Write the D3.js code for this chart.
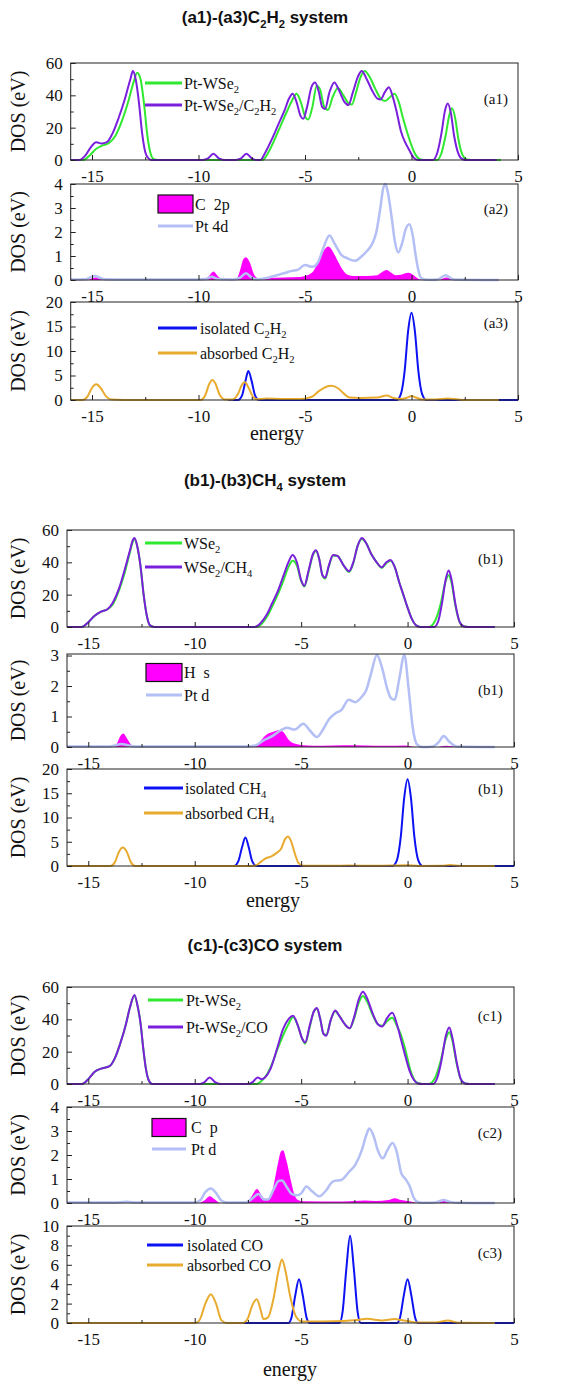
<!DOCTYPE html>
<html>
<head>
<meta charset="utf-8">
<script src="https://cdn.jsdelivr.net/npm/d3@7"></script>
<style>
body { margin: 0; background: #fff; }
svg { display: block; }
text { font-family: "Liberation Serif", "Times New Roman", serif; fill: #111; }
text.title { font-family: "Liberation Sans", Arial, sans-serif; font-weight: bold; }
</style>
</head>
<body>
<svg id="chart" width="561" height="1385"></svg>
<script>
//energy axis and its ticks
var energyRange = [-16, 5];
var xMajor = [-15, -10, -5, 0, 5];
var xMinor = [-12.5, -7.5, -2.5, 2.5];

//y tick values for the different panel heights
var ticks60 = [0, 20, 40, 60], minor60 = [10, 30, 50];
var ticks4 = [0, 1, 2, 3, 4], minor4 = [0.5, 1.5, 2.5, 3.5];
var ticks3 = [0, 1, 2, 3], minor3 = [0.5, 1.5, 2.5];
var ticks20 = [0, 5, 10, 15, 20], minor20 = [2.5, 7.5, 12.5, 17.5];
var ticks10 = [0, 2, 4, 6, 8, 10], minor10 = [1, 3, 5, 7, 9];

//(a1) total DOS, [energy, DOS]
var a1Bare = [[-16,0],[-15.4,0],[-15.1,3],[-14.8,7],[-14.5,9],[-14.2,10.5],[-13.9,15],[-13.6,24],[-13.3,36],[-13.05,48],[-12.88,54],[-12.72,50],[-12.55,34],[-12.4,15],[-12.25,4],[-12.1,0.5],[-11.9,0],
  [-7.0,0],[-6.75,4],[-6.45,12],[-6.15,21],[-5.85,30],[-5.6,37],[-5.4,41],[-5.2,36],[-5.0,27],[-4.85,25],[-4.65,33],[-4.45,46],[-4.3,44],[-4.1,33],[-3.92,31],[-3.7,39],[-3.45,44.5],[-3.2,40],[-2.95,35],[-2.8,34.3],[-2.6,42],[-2.4,51],[-2.2,55],[-1.95,51],[-1.7,44],[-1.45,38],[-1.24,36.5],[-1.0,39],[-0.8,41],[-0.6,36],[-0.4,26],[-0.2,17],[0,9],[0.2,3],[0.4,0.5],[0.6,0],
  [1.2,0],[1.4,4],[1.6,15],[1.78,28],[1.9,32],[2.05,26],[2.2,13],[2.4,3],[2.6,0.3],[2.8,0],[4.2,0]];
var a1Ads = [[-16,0],[-15.6,0],[-15.3,3],[-15.05,8],[-14.8,11],[-14.55,10.2],[-14.3,11],[-14.05,16],[-13.75,26],[-13.45,38],[-13.2,50],[-13.08,55],[-12.95,50],[-12.8,36],[-12.65,17],[-12.5,5],[-12.35,1],[-12.2,0],
  [-9.8,0],[-9.55,1],[-9.3,3.9],[-9.05,1],[-8.8,0],[-8.25,0],[-8.0,1],[-7.75,3.9],[-7.5,1],[-7.25,0],
  [-7.1,0],[-6.85,5],[-6.55,13],[-6.25,22],[-5.95,31],[-5.75,38],[-5.58,41],[-5.4,36],[-5.2,27],[-5.08,25.5],[-4.9,33],[-4.7,45],[-4.53,48],[-4.35,42],[-4.2,33],[-4.06,31.5],[-3.85,42],[-3.62,48],[-3.4,43],[-3.15,36],[-2.96,34],[-2.75,42],[-2.5,52],[-2.34,55],[-2.1,50],[-1.85,43],[-1.6,38],[-1.45,37.5],[-1.25,42],[-1.06,45],[-0.9,40],[-0.7,30],[-0.5,18],[-0.3,11],[-0.1,6],[0.1,1.5],[0.3,0],
  [1.0,0],[1.2,4],[1.4,16],[1.58,31],[1.7,35],[1.85,29],[2.0,15],[2.2,4],[2.4,0.5],[2.6,0],[4.0,0]];

//(a2) projected DOS
var a2C = [[-16,0],[-15.2,0],[-15.0,0.07],[-14.86,0.1],[-14.7,0.07],[-14.4,0],[-9.8,0],[-9.55,0.12],[-9.3,0.35],[-9.05,0.12],[-8.8,0],[-8.25,0],[-8.05,0.4],[-7.9,0.85],[-7.77,0.95],[-7.6,0.75],[-7.4,0.25],[-7.2,0.07],[-6.8,0.08],[-6,0.1],[-5.3,0.12],[-4.9,0.2],[-4.6,0.38],[-4.35,0.8],[-4.1,1.25],[-3.9,1.4],[-3.7,1.2],[-3.5,0.85],[-3.25,0.45],[-3.0,0.22],[-2.7,0.17],[-2.1,0.17],[-1.6,0.2],[-1.35,0.35],[-1.17,0.42],[-0.95,0.3],[-0.75,0.2],[-0.5,0.22],[-0.15,0.3],[0.1,0.2],[0.3,0.06],[0.5,0],[1.3,0],[1.5,0.07],[1.65,0.1],[1.85,0.06],[2.2,0],[4.1,0]];
var a2Pt = [[-16,0.02],[-15.3,0.03],[-15.05,0.12],[-14.86,0.17],[-14.65,0.1],[-14.4,0.03],[-13.5,0.02],[-10,0.02],[-9.65,0.04],[-9.38,0.14],[-9.1,0.04],[-8.4,0.02],[-8.05,0.1],[-7.77,0.28],[-7.5,0.1],[-7.27,0.03],[-6.8,0.08],[-6.4,0.18],[-6.0,0.28],[-5.6,0.38],[-5.35,0.42],[-5.0,0.62],[-4.65,0.55],[-4.4,0.72],[-4.15,1.3],[-3.85,1.85],[-3.6,1.5],[-3.3,1.05],[-3.0,0.9],[-2.65,0.8],[-2.35,0.98],[-2.1,1.2],[-1.85,1.5],[-1.65,2.0],[-1.48,2.9],[-1.32,3.85],[-1.22,4.0],[-1.1,3.6],[-0.93,2.6],[-0.78,1.6],[-0.62,1.15],[-0.45,1.5],[-0.28,2.1],[-0.1,2.32],[0.05,1.9],[0.2,1.0],[0.35,0.3],[0.5,0.05],[0.75,0.01],[1.2,0.02],[1.4,0.1],[1.6,0.2],[1.8,0.1],[2.0,0.02],[4.1,0]];

//(a3) molecule DOS
var a3Iso = [[-8.6,0],[-8.15,0],[-7.95,1],[-7.8,3.8],[-7.66,5.9],[-7.5,3.8],[-7.35,1],[-7.15,0],[-0.7,0],[-0.5,1.2],[-0.32,6],[-0.16,14],[0,17.8],[0.16,14],[0.32,6],[0.5,1.2],[0.7,0],[5,0]];
var a3Abs = [[-16,0],[-15.45,0],[-15.2,0.8],[-15.0,2.5],[-14.8,3.2],[-14.6,2.5],[-14.35,0.8],[-14.1,0.1],[-13.5,0],[-9.9,0],[-9.7,0.8],[-9.5,3.2],[-9.35,4.1],[-9.2,3.3],[-9.0,1],[-8.75,0.1],[-8.4,0.1],[-8.15,1.2],[-7.95,3.2],[-7.82,3.6],[-7.65,2.5],[-7.45,0.7],[-7.25,0.15],[-6.8,0.3],[-6.0,0.2],[-5.2,0.2],[-4.7,0.6],[-4.35,1.8],[-4.0,2.7],[-3.75,2.9],[-3.45,2.4],[-3.15,1.2],[-2.9,0.5],[-2.4,0.4],[-1.6,0.5],[-1.16,0.9],[-0.85,0.4],[-0.5,0.2],[-0.2,0.5],[0,0.8],[0.2,0.5],[0.5,0.1],[1.1,0.1],[1.7,0.3],[2.2,0.1],[2.6,0],[4.1,0]];

//(b1) total DOS
var b1Bare = [[-16,0],[-15.3,0],[-15.0,3],[-14.7,7],[-14.4,9.5],[-14.1,11],[-13.85,14],[-13.55,23],[-13.3,33],[-13.05,46],[-12.9,53],[-12.83,54.5],[-12.7,50],[-12.55,38],[-12.4,20],[-12.25,7],[-12.1,1],[-11.9,0],
  [-7.1,0],[-6.85,2],[-6.6,6.5],[-6.35,13],[-6.1,20],[-5.85,28],[-5.6,37],[-5.4,41],[-5.2,38],[-5.0,28.5],[-4.85,25],[-4.65,34],[-4.45,44.5],[-4.3,47],[-4.15,42],[-4.0,32],[-3.87,30],[-3.7,37.5],[-3.5,44],[-3.3,44],[-3.0,38],[-2.75,34],[-2.55,39.5],[-2.35,50],[-2.15,54.5],[-1.95,52],[-1.7,45],[-1.45,40],[-1.22,36.5],[-1.0,39.5],[-0.8,41],[-0.6,37],[-0.4,28],[-0.2,20],[0,12],[0.2,5],[0.4,1],[0.6,0],
  [1.0,0],[1.3,4],[1.55,14],[1.78,28],[1.93,32],[2.07,27],[2.25,13],[2.45,3],[2.65,0.3],[2.85,0],[4.1,0]];
var b1Ads = [[-16,0],[-15.3,0],[-15.0,3],[-14.7,7],[-14.4,9.5],[-14.1,11],[-13.85,15],[-13.55,24],[-13.3,35],[-13.05,47],[-12.9,54],[-12.83,55],[-12.7,50],[-12.55,38],[-12.4,20],[-12.25,7],[-12.1,1],[-11.9,0],
  [-7.2,0],[-6.9,2.5],[-6.6,8],[-6.35,15],[-6.1,22],[-5.85,31],[-5.6,40],[-5.4,44.5],[-5.2,40],[-5.0,29],[-4.85,25.5],[-4.65,35],[-4.45,45],[-4.3,47.5],[-4.15,42],[-4.0,32],[-3.87,30.5],[-3.7,38],[-3.5,44.5],[-3.3,44],[-3.0,38],[-2.75,34.5],[-2.55,40],[-2.35,50],[-2.15,55],[-1.95,52],[-1.7,45],[-1.45,40],[-1.22,37],[-1.0,40],[-0.8,41.5],[-0.6,37],[-0.4,28],[-0.2,20],[0,12],[0.2,5],[0.4,1],[0.6,0],
  [1.25,0],[1.45,4],[1.62,15],[1.8,30],[1.93,35],[2.07,29],[2.25,14],[2.45,3],[2.65,0.3],[2.85,0],[4.1,0]];

//(b2) projected DOS
var b2H = [[-16,0],[-13.9,0],[-13.65,0.12],[-13.5,0.35],[-13.35,0.44],[-13.2,0.3],[-13.0,0.08],[-12.8,0],[-7.4,0],[-7.1,0.05],[-6.85,0.25],[-6.6,0.42],[-6.3,0.5],[-6.05,0.55],[-5.85,0.5],[-5.6,0.25],[-5.35,0.12],[-4.9,0.06],[-4.0,0.04],[-3.0,0.06],[-2.0,0.05],[-1.0,0.04],[-0.1,0.05],[0.4,0],[1.4,0],[1.8,0.04],[2.4,0],[4.1,0]];
var b2Pt = [[-16,0.02],[-14,0.02],[-13.75,0.05],[-13.45,0.1],[-13.1,0.05],[-12.8,0.02],[-7.6,0.02],[-7.15,0.05],[-6.8,0.2],[-6.3,0.38],[-5.95,0.55],[-5.67,0.63],[-5.3,0.57],[-4.9,0.76],[-4.6,0.55],[-4.26,0.33],[-3.95,0.6],[-3.7,0.9],[-3.4,1.1],[-3.1,1.22],[-2.77,1.55],[-2.46,1.47],[-2.15,1.65],[-1.95,1.85],[-1.72,2.4],[-1.44,3.02],[-1.2,2.6],[-0.95,1.9],[-0.78,1.6],[-0.6,1.55],[-0.4,2.2],[-0.15,3.02],[0.05,1.9],[0.25,0.6],[0.45,0.08],[0.7,0],[1.2,0.02],[1.45,0.15],[1.7,0.36],[1.95,0.18],[2.3,0.02],[4.1,0]];

//(b3) molecule DOS
var b3Iso = [[-9,0],[-8.15,0],[-7.95,1],[-7.78,3.8],[-7.62,5.9],[-7.46,3.8],[-7.3,1],[-7.1,0],[-0.7,0],[-0.5,1.2],[-0.32,6],[-0.16,14],[0,17.9],[0.16,14],[0.32,6],[0.5,1.2],[0.7,0],[5,0]];
var b3Abs = [[-16,0],[-13.95,0],[-13.75,0.8],[-13.55,3.0],[-13.38,3.8],[-13.2,3.0],[-13.0,0.8],[-12.8,0],[-7.3,0],[-7.05,0.3],[-6.85,1.0],[-6.65,1.6],[-6.4,2.0],[-6.15,2.7],[-5.95,3.5],[-5.75,5.6],[-5.62,6.1],[-5.48,5.2],[-5.3,2.6],[-5.12,0.6],[-4.9,0.05],[-3.5,0.05],[-2.8,0.1],[-1.5,0.05],[0,0.15],[0.5,0.02],[1.6,0.05],[2.0,0.2],[2.5,0.02],[4.1,0]];

//(c1) total DOS
var c1Bare = [[-16,0],[-15.3,0],[-15.0,3],[-14.7,7.6],[-14.4,9.5],[-14.0,11],[-13.75,16],[-13.5,25],[-13.25,36],[-13.05,47],[-12.83,54.5],[-12.68,48],[-12.55,38],[-12.4,20],[-12.3,10],[-12.15,2],[-12.0,0],
  [-7.1,0],[-6.85,2],[-6.6,6],[-6.35,13],[-6.1,22],[-5.85,30],[-5.6,37],[-5.38,41.5],[-5.15,36],[-4.95,28],[-4.81,25],[-4.6,35],[-4.4,45],[-4.26,46.5],[-4.1,40],[-3.95,31],[-3.82,30.5],[-3.6,40],[-3.4,45],[-3.2,42],[-2.95,37],[-2.72,34.5],[-2.5,41],[-2.3,50],[-2.1,54.5],[-1.9,51],[-1.65,43],[-1.4,37],[-1.2,36],[-0.95,39],[-0.72,41],[-0.5,36],[-0.3,30],[-0.1,21],[0.1,10],[0.3,3],[0.5,0.5],[0.7,0],
  [1.0,0],[1.3,4],[1.55,14],[1.8,28],[1.96,32],[2.1,27],[2.3,13],[2.5,3],[2.7,0.3],[2.9,0],[4.1,0]];
var c1Ads = [[-16,0],[-15.3,0],[-15.0,3],[-14.7,7.6],[-14.4,9.5],[-14.0,11],[-13.75,16],[-13.5,25],[-13.25,36],[-13.05,47],[-12.83,55],[-12.68,48],[-12.55,38],[-12.4,20],[-12.3,10],[-12.15,2],[-12.0,0],
  [-9.75,0],[-9.55,1],[-9.3,4],[-9.05,1.2],[-8.8,0],
  [-7.5,0],[-7.25,1.5],[-7.05,4],[-6.85,3],[-6.7,4],[-6.45,9],[-6.15,21],[-5.85,34],[-5.6,40],[-5.38,42.2],[-5.15,36],[-4.95,28],[-4.81,25.7],[-4.6,36],[-4.4,45],[-4.26,47],[-4.1,40],[-3.95,31],[-3.82,29.8],[-3.6,40],[-3.4,45.5],[-3.2,42],[-2.95,37],[-2.72,34.5],[-2.5,42],[-2.3,52],[-2.1,57],[-1.9,53],[-1.65,44],[-1.4,37],[-1.2,35.5],[-0.95,41],[-0.72,44],[-0.5,37],[-0.3,27],[-0.1,17],[0.1,8],[0.3,2.5],[0.5,0.3],[0.7,0],
  [1.2,0],[1.4,4],[1.6,15],[1.8,30],[1.96,35],[2.1,29],[2.3,14],[2.5,3],[2.7,0.3],[2.9,0],[4.1,0]];

//(c2) projected DOS
var c2C = [[-16,0],[-13.5,0],[-13.1,0.03],[-12.7,0],[-9.8,0],[-9.55,0.1],[-9.3,0.28],[-9.05,0.15],[-8.8,0],[-7.6,0],[-7.35,0.25],[-7.08,0.58],[-6.85,0.3],[-6.65,0.12],[-6.5,0.15],[-6.3,0.7],[-6.1,1.6],[-5.95,2.15],[-5.85,2.2],[-5.7,1.8],[-5.5,1.0],[-5.35,0.45],[-5.15,0.12],[-4.9,0.07],[-3.0,0.06],[-2.0,0.1],[-1.5,0.08],[-0.9,0.12],[-0.6,0.2],[-0.3,0.12],[0,0.08],[0.3,0.03],[0.5,0],[1.4,0],[1.75,0.1],[2.1,0.02],[2.3,0],[4.1,0]];
var c2Pt = [[-16,0.02],[-13.8,0.02],[-13.2,0.05],[-12.7,0.02],[-10.0,0.02],[-9.75,0.1],[-9.5,0.45],[-9.24,0.6],[-9.0,0.42],[-8.75,0.1],[-8.5,0.02],[-7.6,0.02],[-7.35,0.15],[-7.0,0.37],[-6.75,0.15],[-6.55,0.15],[-6.3,0.55],[-6.05,0.92],[-5.9,0.94],[-5.7,0.7],[-5.45,0.38],[-5.2,0.32],[-5.0,0.4],[-4.75,0.69],[-4.5,0.5],[-4.15,0.28],[-3.85,0.5],[-3.5,0.9],[-3.1,0.97],[-2.75,1.3],[-2.45,1.6],[-2.15,2.2],[-1.95,2.8],[-1.8,3.1],[-1.6,2.8],[-1.4,2.2],[-1.16,1.86],[-0.95,2.2],[-0.7,2.5],[-0.5,2.1],[-0.3,1.25],[-0.1,1.0],[0.1,0.7],[0.3,0.2],[0.45,0.05],[0.7,0.01],[1.3,0.02],[1.5,0.08],[1.7,0.12],[1.9,0.07],[2.3,0.01],[4.1,0]];

//(c3) molecule DOS
var c3Iso = [[-7.8,0],[-5.6,0],[-5.45,0.6],[-5.28,2.8],[-5.1,4.5],[-4.92,2.8],[-4.75,0.6],[-4.6,0],[-3.2,0],[-3.05,1.2],[-2.88,5.5],[-2.7,9.0],[-2.52,5.5],[-2.35,1.2],[-2.2,0],[-0.5,0],[-0.35,0.6],[-0.18,2.8],[0,4.5],[0.18,2.8],[0.35,0.6],[0.5,0],[5,0]];
var c3Abs = [[-16,0],[-9.95,0],[-9.75,0.4],[-9.5,2.0],[-9.24,2.97],[-9.0,2.0],[-8.75,0.3],[-8.5,0],[-7.75,0],[-7.5,0.5],[-7.3,1.8],[-7.08,2.45],[-6.92,1.5],[-6.77,0.4],[-6.55,0.6],[-6.3,2.5],[-6.05,5.5],[-5.9,6.55],[-5.75,5.5],[-5.5,2.6],[-5.25,0.7],[-4.95,0.15],[-4.0,0.15],[-3.0,0.2],[-2.4,0.3],[-1.9,0.45],[-1.4,0.3],[-1.2,0.25],[-0.6,0.4],[-0.3,0.3],[0,0.2],[0.5,0.05],[1.3,0.05],[1.9,0.25],[2.4,0.02],[4.1,0]];

//colours used by the curves
var green = "#30e830", purple = "#7a1fdc", lavender = "#b3bff5";
var magenta = "#ff00ff", blue = "#0d12f2", orange = "#e8ab30";

//the three systems, each with three stacked panels
var groups = [
  { title: "(a1)-(a3)C_2H_2 system", titleY: 23, x0: 70.7, x1: 518, energyX: 277, energyY: 440, tagX: 508,
    panels: [
      { top: 63, bottom: 160, yMax: 60, ticks: ticks60, minor: minor60, tag: "(a1)", tagY: 104,
        legend: { x: 145, y: 83, gap: 22, len: 37, textX: 184 },
        series: [{ data: a1Bare, color: green, name: "Pt-WSe_2" }, { data: a1Ads, color: purple, name: "Pt-WSe_2/C_2H_2" }] },
      { top: 184, bottom: 280, yMax: 4, ticks: ticks4, minor: minor4, tag: "(a2)", tagY: 214,
        legend: { x: 158, y: 204, gap: 22, len: 35, textX: 195 },
        series: [{ data: a2C, color: magenta, name: "C  2p", area: true }, { data: a2Pt, color: lavender, name: "Pt 4d", width: 2.5 }] },
      { top: 302, bottom: 400, yMax: 20, ticks: ticks20, minor: minor20, tag: "(a3)", tagY: 328,
        legend: { x: 158, y: 328, gap: 25, len: 39, textX: 200 },
        series: [{ data: a3Iso, color: blue, name: "isolated C_2H_2" }, { data: a3Abs, color: orange, name: "absorbed C_2H_2" }] }
    ] },
  { title: "(b1)-(b3)CH_4 system", titleY: 486, x0: 67, x1: 514, energyX: 273, energyY: 907, tagX: 503,
    panels: [
      { top: 530, bottom: 627, yMax: 60, ticks: ticks60, minor: minor60, tag: "(b1)", tagY: 564,
        legend: { x: 145, y: 543, gap: 24, len: 37, textX: 184 },
        series: [{ data: b1Bare, color: green, name: "WSe_2" }, { data: b1Ads, color: purple, name: "WSe_2/CH_4" }] },
      { top: 654, bottom: 747, yMax: 3.05, ticks: ticks3, minor: minor3, tag: "(b1)", tagY: 695,
        legend: { x: 146, y: 672.5, gap: 22.5, len: 36, textX: 184 },
        series: [{ data: b2H, color: magenta, name: "H  s", area: true }, { data: b2Pt, color: lavender, name: "Pt d", width: 2.5 }] },
      { top: 769, bottom: 866, yMax: 20, ticks: ticks20, minor: minor20, tag: "(b1)", tagY: 794,
        legend: { x: 144, y: 788, gap: 25, len: 39, textX: 185 },
        series: [{ data: b3Iso, color: blue, name: "isolated CH_4" }, { data: b3Abs, color: orange, name: "absorbed CH_4" }] }
    ] },
  { title: "(c1)-(c3)CO system", titleY: 951, x0: 67, x1: 514, energyX: 290, energyY: 1376, tagX: 502,
    panels: [
      { top: 987, bottom: 1084, yMax: 60, ticks: ticks60, minor: minor60, tag: "(c1)", tagY: 1021,
        legend: { x: 148, y: 1000, gap: 27, len: 35, textX: 186 },
        series: [{ data: c1Bare, color: green, name: "Pt-WSe_2" }, { data: c1Ads, color: purple, name: "Pt-WSe_2/CO" }] },
      { top: 1107, bottom: 1203, yMax: 4, ticks: ticks4, minor: minor4, tag: "(c2)", tagY: 1138,
        legend: { x: 152, y: 1127.5, gap: 21.5, len: 34, textX: 191 },
        series: [{ data: c2C, color: magenta, name: "C  p", area: true }, { data: c2Pt, color: lavender, name: "Pt d", width: 2.5 }] },
      { top: 1226, bottom: 1323, yMax: 10, ticks: ticks10, minor: minor10, tag: "(c3)", tagY: 1258,
        legend: { x: 147, y: 1245, gap: 20, len: 36, textX: 187 },
        series: [{ data: c3Iso, color: blue, name: "isolated CO" }, { data: c3Abs, color: orange, name: "absorbed CO" }] }
    ] }
];

var svg = d3.select("#chart");

//writes a label where "_2" means a subscript 2
function richText(sel, str, size) {
  var parts = str.split(/(_\d)/).filter(function(s) { return s.length; });
  var shifted = false;
  parts.forEach(function(p) {
    var t = sel.append("tspan");
    if (p[0] === "_") {
      t.attr("font-size", size * 0.66).attr("dy", shifted ? 0 : size * 0.28).text(p.slice(1));
      shifted = true;
    } else {
      t.attr("dy", shifted ? -size * 0.28 : 0).text(p);
      shifted = false;
    }
  });
}

function drawPanel(group, panel, isLast) {
  var x = d3.scaleLinear().domain(energyRange).range([group.x0, group.x1]);
  var y = d3.scaleLinear().domain([0, panel.yMax]).range([panel.bottom, panel.top]);
  var g = svg.append("g");

  //curves first, the box goes on top of them
  panel.series.forEach(function(s) {
    if (s.area) {
      var area = d3.area().x(function(d) { return x(d[0]); })
        .y0(y(0)).y1(function(d) { return y(d[1]); })
        .curve(d3.curveMonotoneX);
      g.append("path").datum(s.data).attr("d", area).attr("fill", s.color);
    } else {
      var line = d3.line().x(function(d) { return x(d[0]); })
        .y(function(d) { return y(d[1]); })
        .curve(d3.curveMonotoneX);
      g.append("path").datum(s.data).attr("d", line)
        .attr("fill", "none").attr("stroke", s.color)
        .attr("stroke-width", s.width || 2).attr("stroke-linejoin", "round");
    }
  });

  //box round the plot
  g.append("rect").attr("x", group.x0).attr("y", panel.top)
    .attr("width", group.x1 - group.x0).attr("height", panel.bottom - panel.top)
    .attr("fill", "none").attr("stroke", "#222").attr("stroke-width", 1);

  //bottom axis, ticks pointing in
  var xAxis = g.append("g").attr("transform", "translate(0," + panel.bottom + ")")
    .call(d3.axisBottom(x).tickValues(xMajor).tickSize(-5).tickFormat(String));
  xAxis.selectAll("text").attr("y", 22).attr("dy", null).attr("font-size", 17);
  g.append("g").attr("transform", "translate(0," + panel.bottom + ")")
    .call(d3.axisBottom(x).tickValues(xMinor).tickSize(-3).tickFormat(""));

  //left axis
  var yAxis = g.append("g").attr("transform", "translate(" + group.x0 + ",0)")
    .call(d3.axisLeft(y).tickValues(panel.ticks).tickSize(-5).tickPadding(8).tickFormat(String));
  yAxis.selectAll("text").attr("font-size", 17);
  g.append("g").attr("transform", "translate(" + group.x0 + ",0)")
    .call(d3.axisLeft(y).tickValues(panel.minor).tickSize(-3).tickFormat(""));

  g.selectAll(".domain").remove();
  g.selectAll(".tick line").attr("stroke", "#222");

  //y label
  var midY = (panel.top + panel.bottom) / 2;
  g.append("text").attr("transform", "translate(18," + midY + ") rotate(-90)")
    .attr("text-anchor", "middle").attr("dy", "0.35em").attr("font-size", 20)
    .text("DOS (eV)");

  //panel tag
  g.append("text").attr("x", group.tagX).attr("y", panel.tagY)
    .attr("text-anchor", "end").attr("font-size", 15).text(panel.tag);

  //legend
  var lg = panel.legend;
  panel.series.forEach(function(s, i) {
    var ly = lg.y + i * lg.gap;
    if (s.area) {
      g.append("rect").attr("x", lg.x).attr("y", ly - 9).attr("width", lg.len).attr("height", 18)
        .attr("fill", s.color).attr("stroke", "#111").attr("stroke-width", 1.2);
    } else {
      g.append("line").attr("x1", lg.x).attr("x2", lg.x + lg.len).attr("y1", ly).attr("y2", ly)
        .attr("stroke", s.color).attr("stroke-width", 3);
    }
    var t = g.append("text").attr("x", lg.textX).attr("y", ly + 5.5)
      .attr("font-size", 16).style("white-space", "pre");
    richText(t, s.name, 16);
  });

  if (isLast) {
    g.append("text").attr("x", group.energyX).attr("y", group.energyY)
      .attr("text-anchor", "middle").attr("font-size", 20).text("energy");
  }
}

groups.forEach(function(group) {
  var title = svg.append("text").attr("class", "title")
    .attr("x", 265).attr("y", group.titleY)
    .attr("text-anchor", "middle").attr("font-size", 17);
  richText(title, group.title, 17);
  group.panels.forEach(function(panel, i) {
    drawPanel(group, panel, i === group.panels.length - 1);
  });
});
</script>
</body>
</html>
